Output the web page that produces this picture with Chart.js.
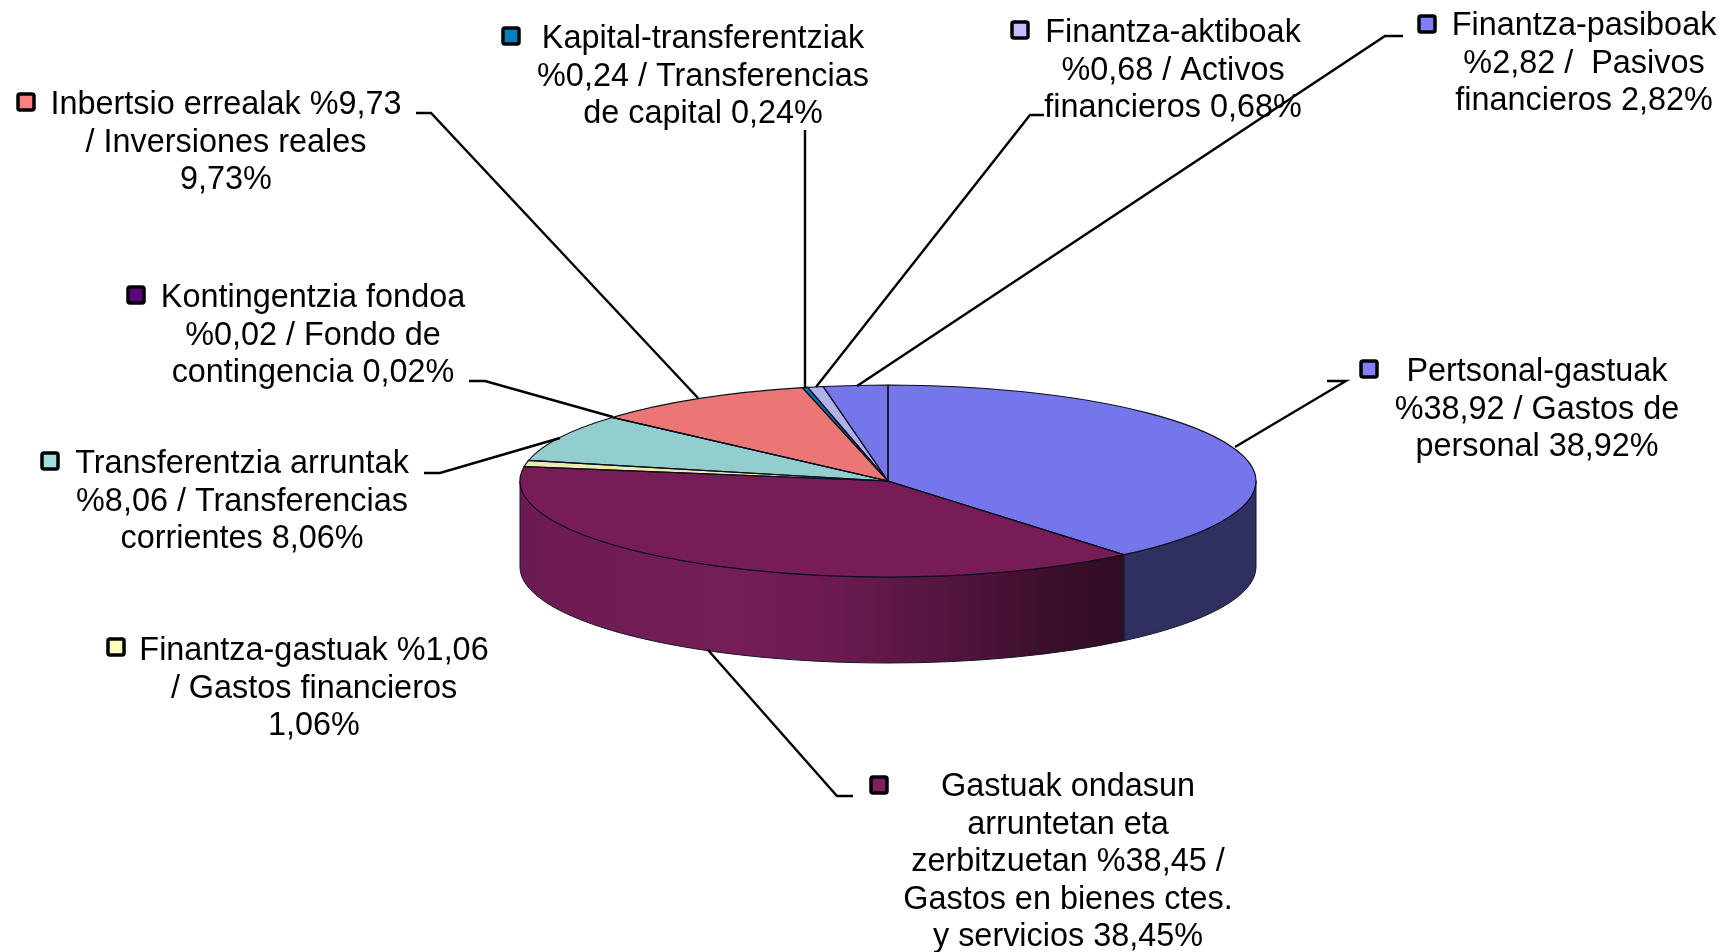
<!DOCTYPE html>
<html>
<head>
<meta charset="utf-8">
<title>Gastuak</title>
<script src="https://cdn.jsdelivr.net/npm/chart.js@4"></script>
<style>
  body { margin: 0; background: #fff; }
  canvas { display: block; }
</style>
</head>
<body>
<canvas id="pie3d" width="1724" height="952"></canvas>
<script>
const categories = ['Pertsonal-gastuak', 'Gastuak ondasun arruntetan', 'Finantza-gastuak', 'Transferentzia arruntak', 'Kontingentzia fondoa', 'Inbertsio errealak', 'Kapital-transferentziak', 'Finantza-aktiboak', 'Finantza-pasiboak'];
const values = [38.92, 38.45, 1.06, 8.06, 0.02, 9.73, 0.24, 0.68, 2.82];
const palette = ['#8080ff', '#802060', '#ffffc0', '#a0e0e0', '#600080', '#ff8080', '#0080c0', '#c0c0ff', '#8080ff'];
const labelLines = [
  ['Pertsonal-gastuak', '%38,92 / Gastos de', 'personal 38,92%'],
  ['Gastuak ondasun', 'arruntetan eta', 'zerbitzuetan %38,45 /', 'Gastos en bienes ctes.', 'y servicios 38,45%'],
  ['Finantza-gastuak %1,06', '/ Gastos financieros', '1,06%'],
  ['Transferentzia arruntak', '%8,06 / Transferencias', 'corrientes 8,06%'],
  ['Kontingentzia fondoa', '%0,02 / Fondo de', 'contingencia 0,02%'],
  ['Inbertsio errealak %9,73', '/ Inversiones reales', '9,73%'],
  ['Kapital-transferentziak', '%0,24 / Transferencias', 'de capital 0,24%'],
  ['Finantza-aktiboak', '%0,68 / Activos', 'financieros 0,68%'],
  ['Finantza-pasiboak', '%2,82 /  Pasivos', 'financieros 2,82%']
];

// label layout, same order as categories: text centre x, first line y, key x, key y
const labelPos = [
  [1537, 372, 1369, 369],
  [1068, 787, 879, 785],
  [314, 651, 116, 647],
  [242, 464, 50, 461],
  [313, 298, 136, 295],
  [226, 105, 26, 102],
  [703, 39, 511, 36],
  [1173, 33, 1020, 30],
  [1584, 26, 1427, 24]
];
// leader lines as polylines, null where the label has none
const leaders = [
  [[1327, 381], [1346, 381], [1235, 447]],
  [[853, 796], [837, 796], [708, 650]],
  null,
  [[424, 473], [440, 473], [560, 438]],
  [[469, 381], [485, 381], [613, 417]],
  [[416, 113], [431, 113], [698, 398]],
  [[805, 130], [805, 387]],
  [[1044, 115], [1030, 115], [816, 387]],
  [[1403, 36], [1385, 36], [857, 386]]
];

const RX = 368;
const RY = 96;
const DEPTH = 86;
const LINE_H = 37.6;
const FONT = '32.4px "Liberation Sans", Arial, sans-serif';
const EDGE = '#15152b';

function shade(hex, k) {
  const n = parseInt(hex.slice(1), 16);
  const r = Math.round((n >> 16) * k);
  const g = Math.round(((n >> 8) & 255) * k);
  const b = Math.round((n & 255) * k);
  return `rgb(${r},${g},${b})`;
}

function wallFill(ctx, cx, color) {
  const g = ctx.createLinearGradient(cx - RX, 0, cx + RX, 0);
  // side light: brightest left of centre, falling off to the right
  [[0, 0.84], [0.1, 0.87], [0.2, 0.9], [0.3, 0.91], [0.42, 0.84], [0.52, 0.72], [0.62, 0.6], [0.72, 0.46], [0.82, 0.375], [1, 0.375]]
    .forEach(s => g.addColorStop(s[0], shade(color, s[1])));
  return g;
}

const pie3d = {
  id: 'pie3d',
  beforeDatasetsDraw(chart) {
    const ctx = chart.ctx;
    const arcs = chart.getDatasetMeta(0).data;
    const cx = arcs[0].x, cy = arcs[0].y;
    // walls: only the front half of the rim shows
    arcs.forEach((arc, i) => {
      const a0 = Math.max(arc.startAngle, 0);
      const a1 = Math.min(arc.endAngle, Math.PI);
      if (a1 <= a0) return;
      ctx.beginPath();
      ctx.ellipse(cx, cy, RX, RY, 0, a0, a1);
      ctx.ellipse(cx, cy + DEPTH, RX, RY, 0, a1, a0, true);
      ctx.closePath();
      ctx.fillStyle = wallFill(ctx, cx, palette[i]);
      ctx.fill();
      ctx.lineWidth = 1;
      ctx.strokeStyle = EDGE;
      ctx.stroke();
    });
    // squash the round pie into the top face
    ctx.save();
    ctx.translate(cx, cy);
    ctx.scale(1, RY / RX);
    ctx.translate(-cx, -cy);
  },
  afterDatasetsDraw(chart) {
    const ctx = chart.ctx;
    ctx.restore();
    const arcs = chart.getDatasetMeta(0).data;
    const cx = arcs[0].x, cy = arcs[0].y;
    arcs.forEach(arc => {
      ctx.beginPath();
      ctx.moveTo(cx, cy);
      ctx.ellipse(cx, cy, RX, RY, 0, arc.startAngle, arc.endAngle);
      ctx.closePath();
      ctx.lineWidth = 1.2;
      ctx.strokeStyle = '#0d0d1c';
      ctx.stroke();
    });
    drawLabels(ctx);
  }
};

function drawLabels(ctx) {
  ctx.strokeStyle = '#000';
  ctx.lineWidth = 2.4;
  leaders.forEach(pts => {
    if (!pts) return;
    ctx.beginPath();
    pts.forEach((p, i) => i ? ctx.lineTo(p[0], p[1]) : ctx.moveTo(p[0], p[1]));
    ctx.stroke();
  });
  ctx.font = FONT;
  ctx.textAlign = 'center';
  ctx.textBaseline = 'middle';
  labelLines.forEach((lines, i) => {
    const pos = labelPos[i];
    ctx.fillStyle = '#000';
    lines.forEach((t, j) => ctx.fillText(t, pos[0], pos[1] + j * LINE_H));
    ctx.beginPath();
    ctx.roundRect(pos[2] - 8, pos[3] - 8, 16, 16, 2);
    ctx.fillStyle = palette[i];
    ctx.fill();
    ctx.lineWidth = 3.5;
    ctx.stroke();
  });
}

new Chart(document.getElementById('pie3d'), {
  type: 'pie',
  data: {
    labels: categories,
    datasets: [{
      data: values,
      backgroundColor: palette.map(c => shade(c, 0.92)),
      borderWidth: 0,
      clip: false
    }]
  },
  options: {
    responsive: false,
    animation: false,
    radius: RX,
    layout: { padding: { left: 52, top: 10 } },
    plugins: { legend: { display: false }, tooltip: { enabled: false } }
  },
  plugins: [pie3d]
});
</script>
</body>
</html>
